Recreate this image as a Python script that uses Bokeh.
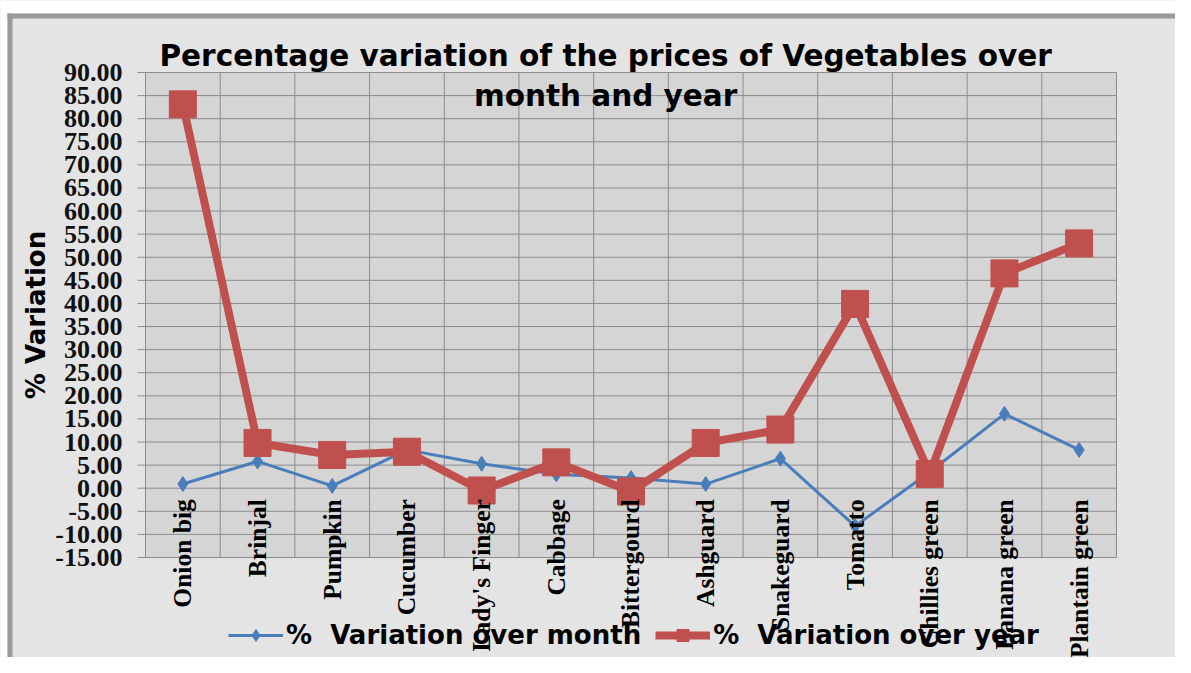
import math
from bokeh.plotting import figure
from bokeh.models import (Range1d, FixedTicker, PrintfTickFormatter, Label, LabelSet,
                          ColumnDataSource, Legend, LegendItem, BoxAnnotation)
from bokeh.embed import file_html
from bokeh.resources import INLINE

categories = ["Onion big", "Brinjal", "Pumpkin", "Cucumber", "Lady's Finger", "Cabbage",
              "Bittergourd", "Ashguard", "Snakeguard", "Tomatto", "Chillies green",
              "Banana green", "Plantain green"]
over_month = [0.9, 5.8, 0.5, 8.3, 5.3, 3.0, 2.2, 0.9, 6.4, -8.2, 3.5, 16.1, 8.3]
over_year = [83.1, 9.8, 7.2, 7.9, -0.5, 5.6, -0.7, 9.8, 12.7, 39.9, 3.1, 46.5, 53.0]
y_ticks = [-15, -10, -5, 0, 5, 10, 15, 20, 25, 30, 35, 40, 45, 50, 55, 60, 65, 70, 75, 80, 85, 90]
title_lines = ["Percentage variation of the prices of Vegetables over", "month and year"]
y_title = "% Variation"
series_names = ["%  Variation over month", "%  Variation over year"]

BLUE = "#4a7ebb"
RED = "#c0504d"
GRID = "#8c8c8c"

n = len(categories)
ymin, ymax = y_ticks[0], y_ticks[-1]
xpos = [i + 0.5 for i in range(n)]
src = ColumnDataSource(dict(x=xpos, cat=categories, m=over_month, y=over_year,
                            zero=[0] * n))
bounds = list(range(n + 1))

# page layout: the frame covers the whole canvas, the chart area sits inside it
W, H = 1175, 657
area_left, area_right, area_top, area_bottom = 145, 1116, 72, 557
ppx = (area_right - area_left) / n
ppu = (area_bottom - area_top) / (ymax - ymin)
def xd(px):
    return (px - area_left) / ppx
def yd(py):
    return ymax - (py - area_top) / ppu

p = figure(width=W, height=H, output_backend="svg", toolbar_location=None,
           x_range=Range1d(xd(0), xd(W)), y_range=Range1d(yd(H), yd(0)),
           min_border_left=0, min_border_top=0, min_border_right=0, min_border_bottom=0)

p.background_fill_color = "#e4e4e4"
p.border_fill_color = "#e4e4e4"
p.outline_line_color = None

# chart area fill
p.add_layout(BoxAnnotation(left=0, right=n, bottom=ymin, top=ymax, fill_color="#d5d5d5",
                           fill_alpha=1, line_color=None, level="image"))
# outer chart border (white page edge + grey frame line at top and left)
p.add_layout(BoxAnnotation(bottom=yd(13), fill_color="#ffffff", fill_alpha=1,
                           line_color=None, level="image"))
p.add_layout(BoxAnnotation(right=xd(7), fill_color="#ffffff", fill_alpha=1,
                           line_color=None, level="image"))
p.add_layout(BoxAnnotation(left=xd(7), bottom=yd(18), top=yd(13), fill_color="#9a9a9a",
                           fill_alpha=1, line_color=None, level="image"))
p.add_layout(BoxAnnotation(left=xd(7), right=xd(12), top=yd(13), fill_color="#9a9a9a",
                           fill_alpha=1, line_color=None, level="image"))

p.xaxis.visible = False
p.xgrid.visible = False
p.ygrid.visible = False
p.segment(x0=bounds, y0=ymin, x1=bounds, y1=ymax, line_color=GRID, line_width=1)
p.segment(x0=xd(area_left - 8), y0=y_ticks, x1=n, y1=y_ticks, line_color=GRID, line_width=1)

p.yaxis.fixed_location = 0
p.yaxis.ticker = FixedTicker(ticks=y_ticks)
p.yaxis.formatter = PrintfTickFormatter(format="%.2f")
p.yaxis.axis_line_color = None
p.yaxis.major_tick_line_color = None
p.yaxis.minor_tick_line_color = None
p.yaxis.major_tick_out = 8
p.yaxis.major_label_standoff = 15
p.yaxis.major_label_text_font = "Liberation Serif"
p.yaxis.major_label_text_font_style = "bold"
p.yaxis.major_label_text_font_size = "26px"
p.yaxis.major_label_text_color = "#111111"

p.add_layout(Label(x=xd(35), y=(ymin + ymax) / 2, text=y_title, angle=math.pi / 2,
                   text_align="center", text_baseline="middle", text_font="DejaVu Sans",
                   text_font_style="bold", text_font_size="26px", text_color="#000000"))

lm = p.line("x", "m", source=src, line_color=BLUE, line_width=3)
sm = p.scatter("x", "m", source=src, marker="diamond", size=15, fill_color=BLUE, line_color=BLUE)
ly = p.line("x", "y", source=src, line_color=RED, line_width=8)
sy = p.scatter("x", "y", source=src, marker="square", size=27, fill_color=RED, line_color=RED)

labels = LabelSet(x="x", y="zero", text="cat", source=src, angle=math.pi / 2,
                  text_align="right", text_baseline="middle", y_offset=-11,
                  text_font="Liberation Serif", text_font_style="bold",
                  text_font_size="25.5px", text_color="#000000")
p.add_layout(labels)

p.add_layout(Label(x=6.16, y=yd(55), text=title_lines[0], text_align="center",
                   text_baseline="middle", text_font="DejaVu Sans", text_font_style="bold",
                   text_font_size="29.5px", text_color="#000000"))
p.add_layout(Label(x=6.16, y=yd(95), text=title_lines[1], text_align="center",
                   text_baseline="middle", text_font="DejaVu Sans", text_font_style="bold",
                   text_font_size="29.5px", text_color="#000000"))

legend = Legend(items=[LegendItem(label=series_names[0], renderers=[lm, sm]),
                       LegendItem(label=series_names[1], renderers=[ly, sy])],
                location=(228, 7), orientation="horizontal",
                glyph_width=55, glyph_height=30, label_standoff=3, spacing=14,
                padding=0, margin=0, background_fill_alpha=0, border_line_color=None,
                label_text_font="DejaVu Sans", label_text_font_style="bold",
                label_text_font_size="26px", label_text_color="#000000")
p.add_layout(legend, "center")

open("out.html", "w").write(file_html(p, INLINE))
